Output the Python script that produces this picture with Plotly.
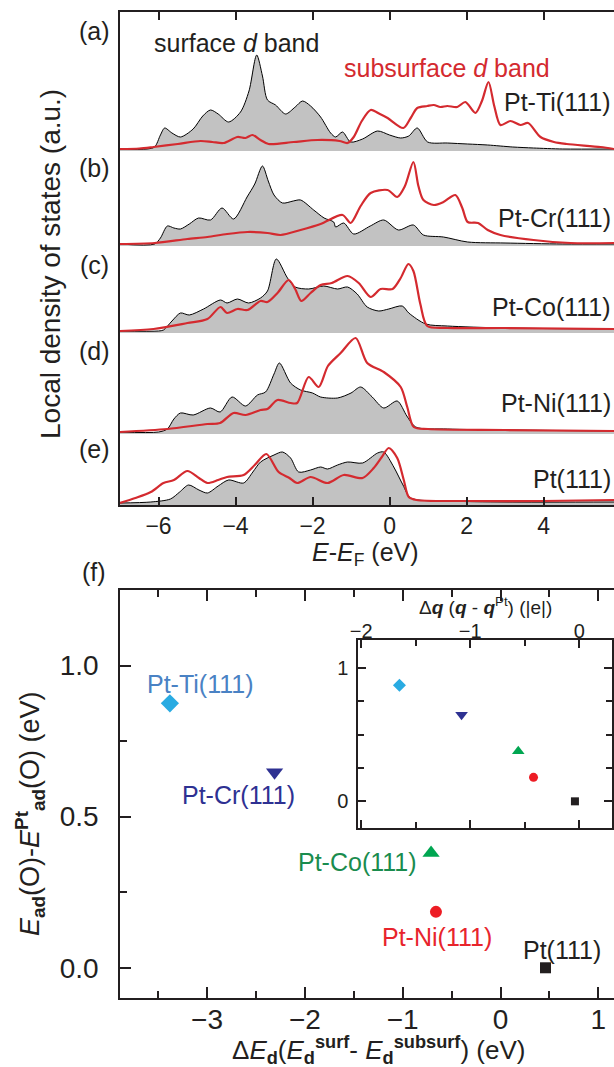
import plotly.graph_objects as go

# ---------------- DATA ----------------
# Panel (a) Pt-Ti(111)
a_surf_E = [-7.0, -6.3, -6.1, -5.95, -5.84, -5.65, -5.43, -5.1, -4.85, -4.65, -4.45, -4.18, -3.87, -3.65, -3.45, -3.3, -3.17, -2.96, -2.70, -2.45, -2.26, -2.05, -1.79, -1.53, -1.40, -1.22, -1.01, -0.7, -0.31, 0.0, 0.29, 0.5, 0.72, 0.99, 1.5, 2.03, 2.55, 3.2, 3.74, 4.5, 5.83]
a_surf_D = [2, 2, 4, 16, 23, 18, 14, 22, 35, 41, 37, 29, 39, 60, 96, 75, 51, 46, 37, 44, 50, 45, 34, 18, 14, 19, 9, 12, 20, 16, 13, 15, 23, 9, 8, 7, 6, 4, 3, 2, 2]
a_sub_E = [-7.0, -6.5, -6.13, -5.5, -4.91, -4.6, -4.31, -3.95, -3.74, -3.56, -3.35, -3.14, -2.49, -1.87, -1.3, -1.09, -0.93, -0.72, -0.49, -0.25, -0.05, 0.36, 0.55, 0.72, 0.98, 1.15, 1.32, 1.5, 1.76, 1.97, 2.23, 2.4, 2.57, 2.72, 2.88, 3.14, 3.4, 3.6, 3.92, 4.27, 4.6, 5.48, 5.83]
a_sub_D = [2, 2.5, 4, 7, 10, 9, 8, 14, 13, 16, 11, 7, 9, 11, 10, 8, 14, 30, 41, 37, 33, 23, 33, 43, 45, 46, 44, 45, 44, 49, 38, 50, 69, 45, 26, 30, 26, 28, 14, 9, 7, 4, 2]

# Panel (b) Pt-Cr(111)
b_surf_E = [-7, -6.1, -5.95, -5.77, -5.6, -5.43, -5.2, -4.96, -4.65, -4.35, -4.05, -3.70, -3.5, -3.30, -3.15, -3.0, -2.78, -2.5, -2.31, -1.97, -1.7, -1.45, -1.4, -1.19, -0.93, -0.5, -0.15, 0.23, 0.62, 0.88, 1.4, 2.03, 3.0, 4.5, 5.83]
b_surf_D = [2, 2, 8, 20, 18, 17, 22, 28, 26, 38, 27, 49, 62, 80, 65, 51, 43, 45, 46, 36, 28, 24, 19, 23, 12, 20, 26, 16, 21, 11, 9, 4, 3, 2, 2]
b_sub_E = [-7, -6.1, -5.25, -4.73, -4.22, -3.69, -3.17, -2.83, -2.31, -1.79, -1.22, -1.01, -0.75, -0.49, -0.05, 0.2, 0.4, 0.62, 0.75, 0.88, 1.15, 1.4, 1.71, 1.89, 2.03, 2.3, 2.55, 2.88, 3.74, 4.7, 5.83]
b_sub_D = [2, 3, 7, 9, 12, 14, 13, 11, 16, 22, 31, 23, 40, 53, 56, 49, 60, 84, 60, 46, 41, 44, 51, 38, 24, 23, 16, 11, 6, 3, 3]

# Panel (c) Pt-Co(111)
c_surf_E = [-7, -6.0, -5.87, -5.65, -5.43, -5.2, -4.83, -4.39, -4.22, -3.95, -3.66, -3.35, -3.17, -2.94, -2.65, -2.45, -2.1, -1.71, -1.35, -1.09, -0.84, -0.58, -0.28, -0.02, 0.33, 0.5, 0.94, 1.5, 3.0, 5.83]
c_surf_D = [2, 2, 3, 12, 20, 18, 24, 33, 30, 34, 30, 35, 42, 74, 55, 46, 44, 47, 44, 46, 39, 26, 22, 24, 27, 20, 9, 7, 5, 4]
c_sub_E = [-7, -6.13, -5.25, -4.73, -4.39, -4.22, -3.95, -3.69, -3.35, -3.17, -2.91, -2.62, -2.45, -2.29, -2.05, -1.79, -1.5, -1.09, -0.8, -0.49, -0.23, 0.08, 0.29, 0.49, 0.62, 0.8, 0.98, 1.5, 3.0, 5.83]
c_sub_D = [2, 4, 10, 14, 26, 20, 24, 23, 32, 31, 40, 53, 44, 32, 40, 48, 50, 57, 50, 36, 44, 44, 55, 69, 62, 29, 7, 5, 5, 4]

# Panel (d) Pt-Ni(111)
d_surf_E = [-7, -6.0, -5.77, -5.6, -5.43, -5.1, -4.65, -4.4, -4.09, -3.74, -3.43, -3.22, -3.0, -2.86, -2.57, -2.31, -2.0, -1.79, -1.35, -1.0, -0.75, -0.45, -0.15, 0.2, 0.45, 0.68, 1.5, 3.0, 5.83]
d_surf_D = [2, 2, 5, 15, 21, 19, 26, 22, 37, 28, 39, 42, 60, 71, 51, 44, 41, 37, 36, 41, 47, 37, 26, 33, 18, 7, 5, 4, 3]
d_sub_E = [-7, -5.77, -4.73, -4.4, -4.05, -3.74, -3.35, -3.17, -2.91, -2.57, -2.4, -2.10, -1.84, -1.6, -1.27, -0.88, -0.58, -0.15, 0.29, 0.46, 0.63, 1.0, 3.0, 5.83]
d_sub_D = [2, 5, 10, 11, 21, 19, 24, 25, 34, 31, 31, 57, 47, 68, 81, 96, 71, 62, 47, 27, 7, 5, 4, 3]

# Panel (e) Pt(111)
e_surf_E = [-7, -6.2, -5.69, -5.45, -5.22, -4.95, -4.73, -4.45, -4.18, -3.79, -3.55, -3.35, -3.0, -2.78, -2.57, -2.36, -2.05, -1.79, -1.61, -1.35, -1.09, -0.7, -0.31, -0.15, 0.11, 0.35, 0.55, 1.5, 3.0, 5.83]
e_surf_D = [2, 3, 6, 13, 20, 15, 12, 19, 25, 22, 33, 43, 50, 53, 47, 33, 35, 38, 36, 40, 43, 42, 52, 53, 38, 20, 7, 4, 3, 3]
e_sub_E = [-7, -6.6, -6.2, -5.87, -5.6, -5.25, -4.95, -4.73, -4.45, -4.22, -3.79, -3.5, -3.2, -2.88, -2.6, -2.4, -2.05, -1.61, -1.19, -0.7, -0.41, -0.2, -0.02, 0.2, 0.37, 0.5, 0.7, 2.0, 4.0, 5.83]
e_sub_D = [2, 7, 13, 22, 25, 34, 27, 22, 25, 28, 30, 40, 51, 33, 27, 22, 28, 22, 30, 27, 37, 48, 57, 47, 25, 8, 5, 4, 4, 5]

panel_letters = ["(a)", "(b)", "(c)", "(d)", "(e)"]
panel_names = ["Pt-Ti(111)", "Pt-Cr(111)", "Pt-Co(111)", "Pt-Ni(111)", "Pt(111)"]
panel_max = [139, 95, 87, 101, 71]   # a.u. range of each panel

# Panel (f)
systems = ["Pt-Ti(111)", "Pt-Cr(111)", "Pt-Co(111)", "Pt-Ni(111)", "Pt(111)"]
dEd = [-3.38, -2.31, -0.71, -0.66, 0.46]
dEads = [0.875, 0.647, 0.38, 0.185, 0.0]
dq = [-1.65, -1.08, -0.56, -0.42, -0.04]
dEads_inset = [0.87, 0.65, 0.375, 0.18, 0.0]
sym = ["diamond", "triangle-down", "triangle-up", "circle", "square"]
mcol = ["#29abe2", "#2e3192", "#00a651", "#ed1c24", "#231f20"]
lcol = ["#4a82c4", "#2e3192", "#1a8c4e", "#e8242c", "#231f20"]
msize = [14, 15, 15, 12, 11]
msize_in = [10, 11, 11, 9, 8]

# ---------------- FIGURE ----------------
W, H = 614, 1067
FONT = "Liberation Sans, Arial, Helvetica, sans-serif"
INK = "#231f20"
RED = "#d42a2f"
GRAY = "#c2c2c2"

def px(x):
    return x / W

def py(y):
    return 1 - y / H

fig = go.Figure()

surf = [(a_surf_E, a_surf_D), (b_surf_E, b_surf_D), (c_surf_E, c_surf_D), (d_surf_E, d_surf_D), (e_surf_E, e_surf_D)]
sub = [(a_sub_E, a_sub_D), (b_sub_E, b_sub_D), (c_sub_E, c_sub_D), (d_sub_E, d_sub_D), (e_sub_E, e_sub_D)]
bounds = [(12, 151), (151, 246), (246, 333), (333, 434), (434, 505)]

# dummy trace for frame axis (drawn first so its subplot lies below)
fig.add_trace(go.Scatter(x=[0], y=[0.5], xaxis="x", yaxis="y6", mode="markers",
                         marker=dict(opacity=0), hoverinfo="skip"))

for i in range(5):
    yname = "y" if i == 0 else "y%d" % (i + 1)
    fig.add_trace(go.Scatter(x=surf[i][0], y=surf[i][1], xaxis="x", yaxis=yname,
                             mode="lines", line=dict(color="black", width=1, shape="spline", smoothing=0.8),
                             fill="tozeroy", fillcolor=GRAY, hoverinfo="skip"))
    fig.add_trace(go.Scatter(x=sub[i][0], y=sub[i][1], xaxis="x", yaxis=yname,
                             mode="lines", line=dict(color=RED, width=2.2, shape="spline", smoothing=0.8),
                             hoverinfo="skip"))

# panel (f) main + inset
for i in range(5):
    fig.add_trace(go.Scatter(x=[dEd[i]], y=[dEads[i]], xaxis="x7", yaxis="y7", mode="markers",
                             marker=dict(symbol=sym[i], color=mcol[i], size=msize[i], line=dict(width=0)),
                             hoverinfo="skip"))
    fig.add_trace(go.Scatter(x=[dq[i]], y=[dEads_inset[i]], xaxis="x8", yaxis="y8", mode="markers",
                             marker=dict(symbol=sym[i], color=mcol[i], size=msize_in[i], line=dict(width=0)),
                             hoverinfo="skip"))

axis_common = dict(showgrid=False, zeroline=False, showline=True, linecolor=INK, linewidth=1.5,
                   tickcolor=INK, tickwidth=1.5, ticks="inside", automargin=False)

layout = dict(
    template="none",
    width=W, height=H, margin=dict(l=0, r=0, t=0, b=0, pad=0, autoexpand=False),
    paper_bgcolor="white", plot_bgcolor="rgba(0,0,0,0)", showlegend=False,
    font=dict(family=FONT, color=INK),
    xaxis=dict(domain=[px(120), 1], range=[-7, 5.83], anchor="y6", tickmode="array",
               tickvals=[-6, -4, -2, 0, 2, 4], ticklen=8, mirror="ticks",
               tickfont=dict(size=23, family=FONT, color=INK), **axis_common),
    yaxis6=dict(domain=[py(505), py(12)], range=[0, 1], anchor="x", showgrid=False, zeroline=False,
                showline=True, linecolor=INK, linewidth=1.5, showticklabels=False, ticks="",
                automargin=False),
)
for i in range(5):
    key = "yaxis" if i == 0 else "yaxis%d" % (i + 1)
    t, b = bounds[i]
    layout[key] = dict(domain=[py(b), py(t)], range=[0, panel_max[i]], anchor="x", visible=False,
                       fixedrange=True, automargin=False, showgrid=False, zeroline=False)

layout["xaxis7"] = dict(domain=[px(120), 1], range=[-3.89, 1.16], anchor="y7", tickmode="linear",
                        tick0=0, dtick=1, ticklen=11, mirror="ticks", ticklabelstandoff=-4,
                        minor=dict(dtick=0.5, tick0=0, ticks="inside", ticklen=7, tickcolor=INK, tickwidth=1.5),
                        tickfont=dict(size=28, family=FONT, color=INK), **axis_common)
layout["yaxis7"] = dict(domain=[py(998), py(590)], range=[-0.1, 1.25], anchor="x7", tickmode="linear",
                        tick0=0, dtick=0.5, tickformat=".1f", ticklen=11, mirror=False,
                        ticklabelstandoff=14,
                        minor=dict(dtick=0.25, tick0=0, ticks="inside", ticklen=7, tickcolor=INK, tickwidth=1.5),
                        tickfont=dict(size=28, family=FONT, color=INK), **axis_common)
layout["xaxis8"] = dict(domain=[px(358), px(612)], range=[-2.03, 0.3], anchor="y8", side="top",
                        tickmode="linear", tick0=0, dtick=1, ticklen=8, mirror="ticks", ticklabelstandoff=-8,
                        minor=dict(dtick=0.5, tick0=0, ticks="inside", ticklen=6, tickcolor=INK, tickwidth=1.5),
                        tickfont=dict(size=20, family=FONT, color=INK), **axis_common)
layout["yaxis8"] = dict(domain=[py(828), py(640)], range=[-0.2, 1.21], anchor="x8", tickmode="linear",
                        tick0=0, dtick=1, ticklen=8, mirror="ticks", ticklabelstandoff=4,
                        minor=dict(dtick=0.25, tick0=0, ticks="inside", ticklen=6, tickcolor=INK, tickwidth=1.5),
                        tickfont=dict(size=20, family=FONT, color=INK), **axis_common)

fig.update_layout(**layout)

ann = []

def txt(x, y, s, size, color=INK, xanchor="center", yanchor="middle", angle=0):
    ann.append(dict(x=px(x), y=py(y), xref="paper", yref="paper", text=s, showarrow=False,
                    xanchor=xanchor, yanchor=yanchor, textangle=angle,
                    font=dict(size=size, color=color, family=FONT)))

letter_y = [31, 168, 265, 351, 449]
for i in range(5):
    txt(94, letter_y[i], panel_letters[i], 25)
name_y = [102, 218, 307, 403, 479]
for i in range(5):
    txt(613, name_y[i], panel_names[i], 25, xanchor="right")
txt(236, 43, "surface <i>d</i> band", 25)
txt(447, 68, "subsurface <i>d</i> band", 25, color=RED)
txt(50, 264, "Local density of states (a.u.)", 28, angle=-90)
txt(365, 554, "<i>E</i>-<i>E</i><sub>F</sub> (eV)", 25)
txt(94, 572, "(f)", 25)

# labels of panel (f) in data coordinates
lab_pos = [(-3.07, 0.94), (-2.68, 0.571), (-1.46, 0.35), (-0.65, 0.102), (0.63, 0.06)]
for i in range(5):
    ann.append(dict(x=lab_pos[i][0], y=lab_pos[i][1], xref="x7", yref="y7", text=systems[i],
                    showarrow=False, xanchor="center", yanchor="middle",
                    font=dict(size=25, color=lcol[i], family=FONT)))

txt(30, 814, "<i>E</i><sub><b>ad</b></sub>(O)-<i>E</i><sup><b>Pt</b></sup><sub><b>ad</b></sub>(O) (eV)", 27, angle=-90)
txt(378, 1050, "Δ<i>E</i><sub><b>d</b></sub>(<i>E</i><sub><b>d</b></sub><sup><b>surf</b></sup>- <i>E</i><sub><b>d</b></sub><sup><b>subsurf</b></sup>) (eV)", 26)
txt(485, 606, "Δ<b><i>q</i></b> (<b><i>q</i></b> - <b><i>q</i></b><sup>Pt</sup>) (|e|)", 19)

fig.update_layout(annotations=ann)
fig.write_html("out.html", config={"displayModeBar": False},
               post_script="document.body.style.margin='0';document.body.style.padding='0';")
